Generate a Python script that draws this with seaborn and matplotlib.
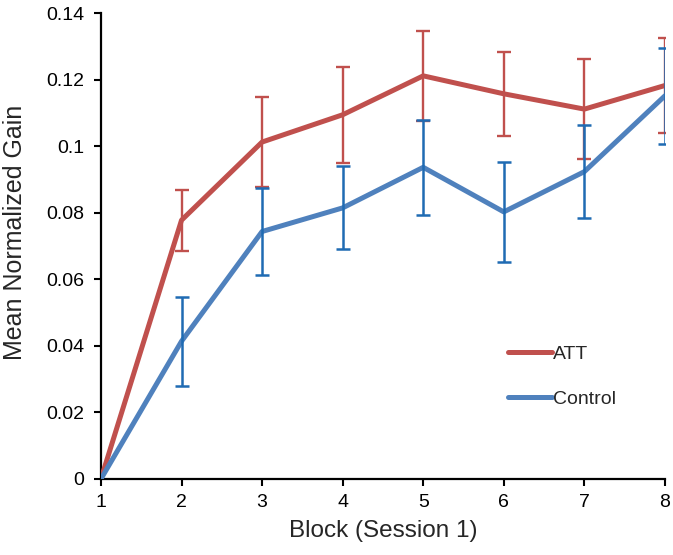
import matplotlib
matplotlib.use("Agg")
import matplotlib.pyplot as plt
import seaborn as sns
import pandas as pd
import numpy as np

blocks = [1, 2, 3, 4, 5, 6, 7, 8]
att_mean = [0.0, 0.0778, 0.1013, 0.1095, 0.1212, 0.1158, 0.1112, 0.1183]
att_err = [0.0, 0.0092, 0.0135, 0.0145, 0.0135, 0.0127, 0.0150, 0.0142]
ctrl_mean = [0.0, 0.0414, 0.0744, 0.0815, 0.0937, 0.0803, 0.0924, 0.1152]
ctrl_err = [0.0, 0.0133, 0.0132, 0.0125, 0.0143, 0.0150, 0.0139, 0.0145]

sns.set_style("white")
plt.rcParams['font.family'] = ['Liberation Sans', 'DejaVu Sans']

df = pd.DataFrame({
    "Block": blocks * 2,
    "Gain": att_mean + ctrl_mean,
    "Group": ["ATT"] * len(blocks) + ["Control"] * len(blocks),
})

red = "#C0504D"
blue = "#4F81BD"
red_err = "#C0504D"
blue_err = "#1F6BB3"

fig = plt.figure(figsize=(6.73, 5.55), dpi=100)
ax = fig.add_axes([0.150, 0.137, 0.838, 0.839])

# error bars
ax.errorbar(blocks[1:], att_mean[1:], yerr=att_err[1:], fmt="none",
            ecolor=red_err, elinewidth=1.7, capsize=5, capthick=1.7, zorder=2)
ax.errorbar(blocks[1:], ctrl_mean[1:], yerr=ctrl_err[1:], fmt="none",
            ecolor=blue_err, elinewidth=1.8, capsize=5, capthick=1.8, zorder=4)

sns.lineplot(data=df, x="Block", y="Gain", hue="Group",
             palette={"ATT": red, "Control": blue}, linewidth=3.6, ax=ax,
             zorder=3, legend=True)

ax.set_xlim(1, 8)
ax.set_ylim(0, 0.14)
ax.set_xticks(blocks)
ax.set_xticklabels([str(b) for b in blocks])
yt = [0, 0.02, 0.04, 0.06, 0.08, 0.1, 0.12, 0.14]
ax.set_yticks(yt)
ax.set_yticklabels(["0", "0.02", "0.04", "0.06", "0.08", "0.1", "0.12", "0.14"])

for s in ["top", "right"]:
    ax.spines[s].set_visible(False)
for s in ["left", "bottom"]:
    ax.spines[s].set_color("black")
    ax.spines[s].set_linewidth(1.6)

ax.tick_params(axis="both", direction="out", length=5, width=1.5,
               colors="black", labelsize=14, bottom=True, left=True)
ax.tick_params(axis="x", pad=6)
ax.tick_params(axis="y", pad=7)
ax.set_xlabel("Block (Session 1)", fontsize=17.5, labelpad=6)
ax.set_ylabel("Mean Normalized Gain", fontsize=18, labelpad=11)
ax.yaxis.set_label_coords(-0.132, 0.53)

leg = ax.legend(loc="center left", bbox_to_anchor=(0.69, 0.22), frameon=False,
                fontsize=14, handlelength=2.3, handletextpad=0.05,
                labelspacing=1.4, title=None)
for line in leg.get_lines():
    line.set_linewidth(3.6)

fig.savefig("out.png", dpi=100)
